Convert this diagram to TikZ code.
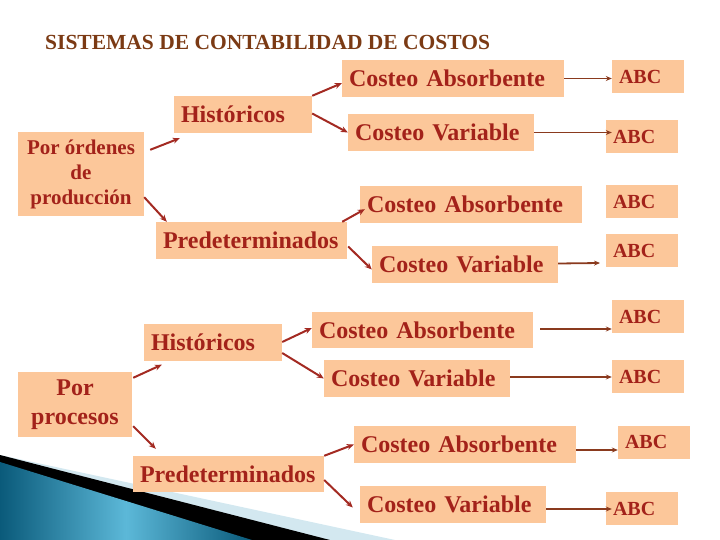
\documentclass[tikz,border=0pt]{standalone}
\usepackage{fontspec}
\setmainfont{Liberation Serif}
\usetikzlibrary{calc,arrows.meta}
\definecolor{peach}{HTML}{FCC79A}
\definecolor{txtred}{HTML}{A3221A}
\definecolor{titlebrown}{HTML}{7B3A14}
\definecolor{arrred}{HTML}{A32A22}
\definecolor{arrbrown}{HTML}{8A3A1E}
\definecolor{tealdark}{HTML}{0A5A7A}
\definecolor{teallight}{HTML}{5CB8D8}
\definecolor{paleblue}{HTML}{D3E8F0}
\begin{document}
\begin{tikzpicture}[x=1pt,y=-1pt,
  box/.style={fill=peach,draw=none,text=txtred,font=\bfseries\fontsize{24}{26}\selectfont,
    inner xsep=7pt,inner ysep=0pt,minimum height=37pt,align=left},
  wide/.style={text width=#1-14pt},
  abcbox/.style={fill=peach,draw=none,text=txtred,font=\bfseries\fontsize{20}{22}\selectfont,
    inner xsep=7pt,inner ysep=0pt,minimum height=33pt,text width=58pt,align=left},
  multibox/.style={fill=peach,draw=none,text=txtred,align=center,inner sep=0pt},
  arr/.style={draw=arrred,line width=2pt,-{Stealth[length=7pt,width=6pt]}},
  harr/.style={draw=arrbrown,line width=1.8pt,-{Stealth[length=6pt,width=5pt]}}]
\useasboundingbox (0,0) rectangle (720,540);
% decoration bottom left
\fill[paleblue] (0,455) -- (395,540) -- (0,540) -- cycle;
\fill[black] (0,455) -- (330,540) -- (0,540) -- cycle;
\shade[left color=tealdark,right color=tealdark,middle color=teallight] (0,462) -- (252,540) -- (0,540) -- cycle;
% title
\node[anchor=west,text=titlebrown,font=\bfseries\fontsize{21.5}{24}\selectfont,inner sep=0pt] (title) at (45,42) {SISTEMAS DE CONTABILIDAD DE COSTOS};
% first group
\node[multibox,minimum width=126pt,minimum height=84pt,font=\bfseries\fontsize{21}{25}\selectfont] (A) at (81,174) {Por órdenes\\de\\producción};
\node[box,wide=138pt] (B) at (243,114.5) {Históricos};
\node[box,wide=191pt] (C) at (251.5,240.5) {Predeterminados};
\node[box,wide=222pt] (D) at (453,78.5) {Costeo Absorbente};
\node[box,wide=186pt] (E) at (441,132.5) {Costeo Variable};
\node[box,wide=222pt] (F) at (471,204.5) {Costeo Absorbente};
\node[box,wide=186pt] (G) at (465,264.5) {Costeo Variable};
\node[abcbox] (abc1) at (648,76.5) {ABC};
\node[abcbox] (abc2) at (642,136.5) {ABC};
\node[abcbox] (abc3) at (642,202) {ABC};
\node[abcbox] (abc4) at (642,250.5) {ABC};
% second group
\node[multibox,minimum width=114pt,minimum height=65pt,font=\bfseries\fontsize{24}{29}\selectfont] (H) at (75,404.5) {Por\\procesos};
\node[box,wide=138pt] (I) at (213,342) {Históricos};
\node[box,wide=191pt,minimum height=36pt] (J) at (228.5,474) {Predeterminados};
\node[box,wide=221pt,minimum height=36pt] (K) at (422.5,330) {Costeo Absorbente};
\node[box,wide=186pt] (L) at (417,378.5) {Costeo Variable};
\node[box,wide=222pt] (M) at (465,444.5) {Costeo Absorbente};
\node[box,wide=186pt] (N) at (453,504.5) {Costeo Variable};
\node[abcbox] (abc5) at (648,316.5) {ABC};
\node[abcbox] (abc6) at (648,376.5) {ABC};
\node[abcbox] (abc7) at (654,442) {ABC};
\node[abcbox] (abc8) at (642,508.5) {ABC};
\coordinate (g4) at (600,263);
% arrows group 1
\draw[arr] ($(A.north east)+(6,18)$) -- ($(B.south west)+(6,5)$);
\draw[arr] ($(A.south east)+(0,-19)$) -- ($(C.north west)+(11,0)$);
\draw[arr] (B.north east) -- ($(D.south west)+(0,-14)$);
\draw[arr] ($(B.east)+(0,-1)$) -- (E.west);
\draw[arr] ($(C.north east)+(-5,0)$) -- ($(F.south west)+(5,-14)$);
\draw[arr] ($(C.east)+(1,6)$) -- ($(G.west)+(0,5)$);
\draw[harr] (D.east) -- (D.east -| abc1.west);
\draw[harr] (E.east) -- ($(E.east -| abc2.west)+(6,0)$);
\draw[harr] ($(G.east)+(0,-1)$) -- (g4);
% arrows group 2
\draw[arr] ($(H.north east)+(1,6)$) -- ($(I.south west)+(18,4)$);
\draw[arr] ($(H.south east)+(1,-11)$) -- ($(J.north west)+(23,-7)$);
\draw[arr] (I.east) -- ($(K.west)+(0,-2)$);
\draw[arr] ($(I.east)+(0,11)$) -- (L.west);
\draw[arr] (J.north east) -- (M.west);
\draw[arr] ($(J.east)+(0,6)$) -- ($(N.west)+(-7,3)$);
\draw[harr] ($(K.east)+(7,-1)$) -- ($(K.east -| abc5.west)+(0,-1)$);
\draw[harr] ($(L.east)+(0,-1.5)$) -- ($(L.east -| abc6.west)+(0,-1.5)$);
\draw[harr] ($(M.east)+(0,5.5)$) -- ($(M.east -| abc7.west)+(0,5.5)$);
\draw[harr] ($(N.east)+(0,4.5)$) -- ($(N.east -| abc8.west)+(6,4.5)$);
\end{tikzpicture}
\end{document}
